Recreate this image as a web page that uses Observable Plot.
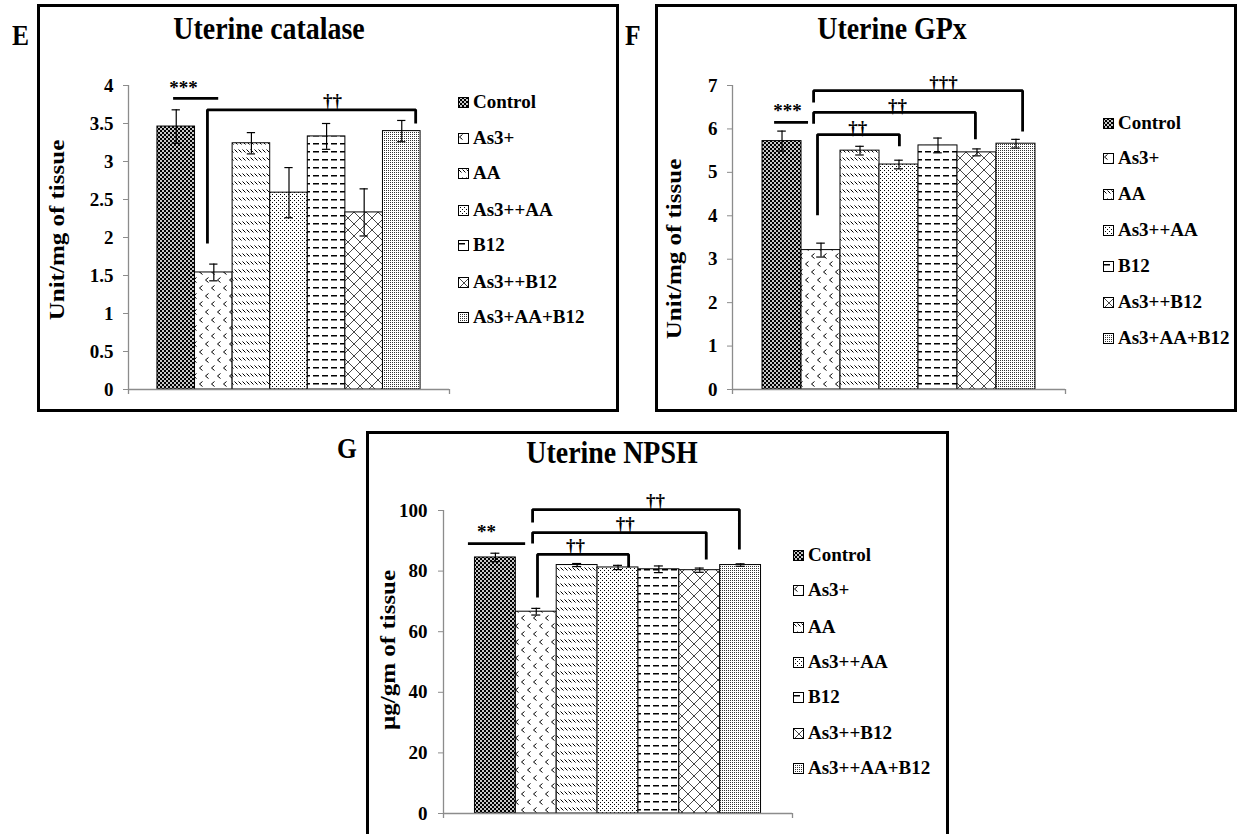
<!DOCTYPE html>
<html>
<head>
<meta charset="utf-8">
<script src="https://cdn.jsdelivr.net/npm/d3@7"></script>
<script src="https://cdn.jsdelivr.net/npm/@observablehq/plot@0.6"></script>
<style>
  html, body { margin: 0; padding: 0; background: #fff; }
  #page { position: relative; width: 1239px; height: 834px; overflow: hidden;
          font-family: "Liberation Serif", "Times New Roman", serif; font-weight: bold; color: #000; }
  .box { position: absolute; border: 3px solid #000; box-sizing: border-box; }
  .abs { position: absolute; white-space: nowrap; line-height: 1; }
  .letter { font-size: 30px; transform: scaleX(0.85); transform-origin: left top; }
  .title { font-size: 31px; transform: translateX(-50%) scaleX(0.9); }
  .ylab { font-size: 25px; transform: translate(-50%, -50%) rotate(-90deg) scaleY(0.85); }
  .leg { position: absolute; display: flex; align-items: center; height: 22px; font-size: 19px; white-space: nowrap; }
  .leg svg { margin-right: 4px; display: block; }
  .chart { position: absolute; }
</style>
</head>
<body>
<div id="page"></div>
<script>
// ---- data -------------------------------------------------------------
const groups   = ["Control", "As3+", "AA", "As3++AA", "B12", "As3++B12", "As3+AA+B12"];
const groupsG  = ["Control", "As3+", "AA", "As3++AA", "B12", "As3++B12", "As3++AA+B12"];

const catalase    = [3.46, 1.54, 3.24, 2.59, 3.33, 2.33, 3.40];
const catalaseErr = [0.22, 0.11, 0.14, 0.33, 0.17, 0.31, 0.14];
const catalaseTicks = [0, 0.5, 1, 1.5, 2, 2.5, 3, 3.5, 4];

const gpx    = [5.72, 3.21, 5.50, 5.18, 5.62, 5.46, 5.66];
const gpxErr = [0.23, 0.16, 0.10, 0.10, 0.17, 0.08, 0.10];
const gpxTicks = [0, 1, 2, 3, 4, 5, 6, 7];

const npsh    = [84.5, 66.6, 82.0, 81.2, 80.6, 80.3, 82.0];
const npshErr = [1.4, 1.1, 0.5, 0.7, 1.1, 0.7, 0.4];
const npshTicks = [0, 20, 40, 60, 80, 100];

// significance marks, in group-index / value units
const catalaseStars = [{x1: -0.07, x2: 1.13, y: 3.83, label: "***", lx: 0.19, ly: 3.97}];
const catalaseBrackets = [
  {x1: 0.83, x2: 6.37, yTop: 3.68, yLeft: 1.92, yRight: 3.50, label: "††", lx: 4.16, ly: 3.80}
];
const gpxStars = [{x1: -0.19, x2: 0.68, y: 6.15, label: "***", lx: 0.14, ly: 6.42}];
const gpxBrackets = [
  {x1: 0.81, x2: 6.17, yTop: 6.88, yLeft: 6.61, yRight: 5.94, label: "†††", lx: 4.14, ly: 7.07},
  {x1: 0.81, x2: 4.96, yTop: 6.38, yLeft: 6.12, yRight: 5.76, label: "††",  lx: 2.96, ly: 6.54},
  {x1: 0.91, x2: 3.01, yTop: 5.87, yLeft: 4.01, yRight: 5.60, label: "††",  lx: 1.94, ly: 6.03}
];
const npshStars = [{x1: -0.66, x2: 0.74, y: 89.1, label: "**", lx: -0.22, ly: 93.1}];
const npshBrackets = [
  {x1: 0.91, x2: 5.97, yTop: 100.3, yLeft: 96.0, yRight: 87.1, label: "††", lx: 3.92, ly: 103.3},
  {x1: 0.91, x2: 5.16, yTop: 92.7,  yLeft: 89.1, yRight: 83.8, label: "††", lx: 3.18, ly: 95.7},
  {x1: 1.03, x2: 3.26, yTop: 85.5,  yLeft: 71.3, yRight: 81.2, label: "††", lx: 1.96, ly: 88.4}
];

// ---- styling ------------------------------------------------------------
const SERIF = "'Liberation Serif','Times New Roman',serif";
const AXIS_GRAY = "#8c8c8c";
const PAD = 0.77;          // empty space beside the bar group, in bar widths
const CAP = 0.11;          // half width of error-bar caps, in bar widths
const xDomain = [-0.5 - PAD, 6.5 + PAD];

const page = document.getElementById("page");

// hatch patterns used by the bars and legend swatches
const patternMarkup = [
  // 0 small checker board
  `<pattern id="pat0" patternUnits="userSpaceOnUse" width="4" height="4">
     <rect width="4" height="4" fill="#c8c8c8"/>
     <rect x="0" y="0" width="2" height="2" fill="#000"/><rect x="2" y="2" width="2" height="2" fill="#000"/>
   </pattern>`,
  // 1 small chevrons
  `<pattern id="pat1" patternUnits="userSpaceOnUse" width="12" height="16">
     <rect width="12" height="16" fill="#fff"/>
     <path d="M4.5,1.5 L1.5,4 L4.5,6.5 M10.5,9.5 L7.5,12 L10.5,14.5" fill="none" stroke="#000" stroke-width="1"/>
   </pattern>`,
  // 2 dashed downward diagonal
  `<pattern id="pat2" patternUnits="userSpaceOnUse" width="4" height="8">
     <rect width="4" height="8" fill="#fff"/>
     <path d="M0.5,1.5 L3.5,4.5" stroke="#000" stroke-width="1"/>
   </pattern>`,
  // 3 sparse dots
  `<pattern id="pat3" patternUnits="userSpaceOnUse" width="4" height="4">
     <rect width="4" height="4" fill="#fff"/>
     <rect x="0" y="0" width="1" height="1" fill="#000"/><rect x="2" y="2" width="1" height="1" fill="#000"/>
   </pattern>`,
  // 4 dashed horizontal
  `<pattern id="pat4" patternUnits="userSpaceOnUse" width="9" height="8">
     <rect width="9" height="8" fill="#fff"/>
     <rect x="1" y="3" width="6" height="1.5" fill="#000"/>
   </pattern>`,
  // 5 diagonal cross-hatch
  `<pattern id="pat5" patternUnits="userSpaceOnUse" width="12" height="12">
     <rect width="12" height="12" fill="#fff"/>
     <path d="M0,0 L12,12 M12,0 L0,12" stroke="#333" stroke-width="0.9"/>
   </pattern>`,
  // 6 fine stipple
  `<pattern id="pat6" patternUnits="userSpaceOnUse" width="2" height="2">
     <rect width="2" height="2" fill="#fff"/>
     <rect x="0" y="0" width="1" height="1" fill="#333"/>
   </pattern>`
].join("");

const defs = document.createElementNS("http://www.w3.org/2000/svg", "svg");
defs.setAttribute("width", 0);
defs.setAttribute("height", 0);
defs.style.position = "absolute";
defs.innerHTML = `<defs>${patternMarkup}</defs>`;
page.appendChild(defs);

function addDiv(cls, text, css) {
  const d = document.createElement("div");
  d.className = cls;
  d.textContent = text;
  Object.assign(d.style, css);
  page.appendChild(d);
  return d;
}

function addLegend(names, left, centers) {
  names.forEach((name, i) => {
    const row = document.createElement("div");
    row.className = "leg";
    row.style.left = left + "px";
    row.style.top = (centers[i] - 11) + "px";
    row.innerHTML = `<svg width="11" height="11"><rect x="0.5" y="0.5" width="10" height="10" fill="url(#pat${i})" stroke="#000" stroke-width="1"/></svg>`;
    const t = document.createElement("span");
    t.textContent = name;
    row.appendChild(t);
    page.appendChild(row);
  });
}

function bracketPath(brackets) {
  const pts = [];
  brackets.forEach((b, k) => {
    pts.push({id: k, x: b.x1, y: b.yLeft}, {id: k, x: b.x1, y: b.yTop},
             {id: k, x: b.x2, y: b.yTop}, {id: k, x: b.x2, y: b.yRight});
  });
  return pts;
}

function drawPanel({frame, svgBox, values, errors, yMax, ticks, tickPadding, stars, brackets}) {
  const data = values.map((v, i) => ({i, value: v, err: errors[i]}));
  const labels = [...stars, ...brackets].map(s => ({x: s.lx, y: s.ly, text: s.label}));
  const chart = Plot.plot({
    width: svgBox.w,
    height: svgBox.h,
    marginLeft: frame.x0 - svgBox.x,
    marginRight: svgBox.x + svgBox.w - frame.x1,
    marginTop: frame.y0 - svgBox.y,
    marginBottom: svgBox.y + svgBox.h - frame.y1,
    style: {background: "transparent", overflow: "visible", fontFamily: SERIF,
            fontWeight: "bold", fontSize: "19px", color: "#000", maxWidth: "none"},
    x: {domain: xDomain, axis: null},
    y: {domain: [0, yMax], axis: null},
    color: {type: "identity"},
    marks: [
      Plot.rectY(data, {x1: d => d.i - 0.5, x2: d => d.i + 0.5, y: "value",
                        fill: d => `url(#pat${d.i})`, stroke: "#000", strokeWidth: 1}),
      Plot.ruleX(data, {x: "i", y1: d => d.value - d.err, y2: d => d.value + d.err, stroke: "#000", strokeWidth: 1.2}),
      Plot.ruleY(data, {y: d => d.value + d.err, x1: d => d.i - CAP, x2: d => d.i + CAP, stroke: "#000", strokeWidth: 1.2}),
      Plot.ruleY(data, {y: d => d.value - d.err, x1: d => d.i - CAP, x2: d => d.i + CAP, stroke: "#000", strokeWidth: 1.2}),
      Plot.ruleY([0], {stroke: AXIS_GRAY, strokeWidth: 1.3}),
      Plot.ruleX([xDomain[0]], {y1: 0, y2: yMax, stroke: AXIS_GRAY, strokeWidth: 1.3}),
      Plot.ruleX(xDomain, {y1: 0, y2: 0, insetTop: 5, stroke: AXIS_GRAY, strokeWidth: 1.3}),
      Plot.axisY({ticks, tickFormat: d => String(d), tickSize: 5, tickPadding,
                  stroke: AXIS_GRAY, fill: "#000", fontSize: 19, fontWeight: "bold", label: null}),
      Plot.ruleY(stars, {y: "y", x1: "x1", x2: "x2", stroke: "#000", strokeWidth: 2.8}),
      Plot.line(bracketPath(brackets), {x: "x", y: "y", z: "id", stroke: "#000", strokeWidth: 2.8,
                                         strokeLinejoin: "miter", strokeLinecap: "butt"}),
      Plot.text(labels, {x: "x", y: "y", text: "text", fontSize: 19, fontWeight: "bold", fill: "#000"})
    ]
  });
  const wrap = document.createElement("div");
  wrap.className = "chart";
  wrap.style.left = svgBox.x + "px";
  wrap.style.top = svgBox.y + "px";
  wrap.style.width = svgBox.w + "px";
  wrap.style.height = svgBox.h + "px";
  wrap.appendChild(chart);
  page.appendChild(wrap);
}

// ---- panel E : uterine catalase ------------------------------------------
addDiv("box", "", {left: "37px", top: "4px", width: "582px", height: "408px"});
addDiv("abs letter", "E", {left: "12px", top: "20px"});
addDiv("abs title", "Uterine catalase", {left: "269px", top: "13px"});
addDiv("abs ylab", "Unit/mg of tissue", {left: "57px", top: "230px"});
drawPanel({
  frame: {x0: 128, x1: 449, y0: 85, y1: 389},
  svgBox: {x: 42, y: 44, w: 412, h: 356},
  values: catalase, errors: catalaseErr, yMax: 4, ticks: catalaseTicks, tickPadding: 10,
  stars: catalaseStars, brackets: catalaseBrackets
});
addLegend(groups, 458, [102, 138, 173, 210, 245, 282, 317]);

// ---- panel F : uterine GPx ---------------------------------------------
addDiv("box", "", {left: "655px", top: "4px", width: "582px", height: "408px"});
addDiv("abs letter", "F", {left: "625px", top: "20px"});
addDiv("abs title", "Uterine GPx", {left: "892px", top: "13px"});
addDiv("abs ylab", "Unit/mg of tissue", {left: "674px", top: "249px"});
drawPanel({
  frame: {x0: 732, x1: 1065, y0: 85, y1: 389},
  svgBox: {x: 690, y: 44, w: 380, h: 356},
  values: gpx, errors: gpxErr, yMax: 7, ticks: gpxTicks, tickPadding: 10,
  stars: gpxStars, brackets: gpxBrackets
});
addLegend(groups, 1103, [123, 158, 194, 230, 266, 302, 338]);

// ---- panel G : uterine NPSH --------------------------------------------
addDiv("box", "", {left: "366px", top: "431px", width: "583px", height: "420px"});
addDiv("abs letter", "G", {left: "337px", top: "433px"});
addDiv("abs title", "Uterine NPSH", {left: "612px", top: "437px"});
addDiv("abs ylab", "µg/gm of tissue", {left: "388px", top: "650px"});
drawPanel({
  frame: {x0: 443, x1: 792, y0: 510, y1: 813},
  svgBox: {x: 400, y: 470, w: 397, h: 355},
  values: npsh, errors: npshErr, yMax: 100, ticks: npshTicks, tickPadding: 11,
  stars: npshStars, brackets: npshBrackets
});
addLegend(groupsG, 793, [555, 590, 627, 662, 697, 733, 768]);
</script>
</body>
</html>
